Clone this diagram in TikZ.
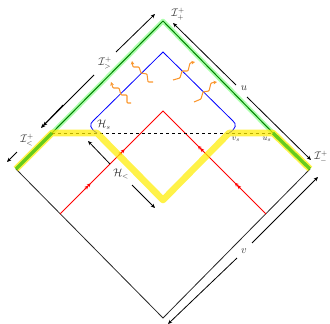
\documentclass[tikz,border=0pt]{standalone}
\usetikzlibrary{arrows.meta}
\definecolor{waveor}{RGB}{250,150,45}
\tikzset{
  outline/.style={black!85,line width=0.8pt},
  dim/.style={black,line width=0.8pt,-{Stealth[length=4.2pt,width=3.6pt]}},
  halo/.style={green!80!white,opacity=0.4,line width=4.6pt,line join=round},
  gline/.style={green!50!black,line width=1pt,line join=round},
  yband/.style={yellow!95!orange,opacity=0.72,line width=6.6pt,line join=round},
  gband/.style={green!70!black,opacity=0.6,line width=3.4pt},
  rline/.style={red,line width=0.8pt},
  bline/.style={blue,line width=0.8pt},
  rmark/.style={red,line width=0.8pt,-{Stealth[length=3.4pt,width=3.8pt]Stealth[length=3.4pt,width=3.8pt]}},
  wave/.style={waveor,line width=1.05pt,rounded corners=0.8pt,-{Stealth[length=3.6pt,width=3.6pt]}},
  lab/.style={inner sep=0pt,font=\fontsize{10.5}{12}\selectfont,text=black!80},
  slab/.style={lab,font=\fontsize{8.5}{10}\selectfont}
}
\begin{document}
\begin{tikzpicture}[x=1pt,y=-1pt]
\useasboundingbox (0,0) rectangle (330,324);
\coordinate (T) at (163,21);
\coordinate (L) at (16,169);
\coordinate (R) at (310,169);
\coordinate (B) at (163,318);
\coordinate (YL) at (52,133);
\coordinate (YR) at (273,133);
\coordinate (HL) at (97,133);
\coordinate (HR) at (229,133);
\coordinate (YB) at (163,200);
\coordinate (RT) at (163,111);
\coordinate (RL) at (60,214);
\coordinate (RR) at (266,214);
\coordinate (BT) at (163,52);
% outline
\draw[outline] (L) -- (B) -- (R);
% green horizon
\draw[halo] (YL) -- (T) -- (YR);
\draw[gline] (YL) -- (T) -- (YR);
% red
\draw[rline] (RL) -- (RT) -- (RR);
\draw[rmark] (85,189) -- (90.5,183.5);
\draw[rmark] (119,155) -- (124.5,149.5);
\draw[rmark] (203.5,151.5) -- (198,146);
\draw[rmark] (240.5,188.5) -- (235,183);
% dashed
\draw[black,line width=0.7pt,dashed] (YL) -- (YR);
% blue
\draw[bline] (HL) .. controls (90,129) and (89,124) .. (93,121) -- (BT) -- (233,121) .. controls (237,124) and (236,129) .. (HR);
% yellow
\draw[yband] (L) -- (YL) -- (HL) -- (YB) -- (HR) -- (YR) -- (R);
\draw[gband] (L) -- (YL);
\draw[gband] (YR) -- (R);
% waves
\draw[wave] (153,82) -- (148,82) -- (147,74) -- (141,73) -- (139,67) -- (133,67) -- (132,61);
\draw[wave] (131,103) -- (127,103) -- (127,95) -- (121,95) -- (119,88) -- (113,88) -- (111,82);
\draw[wave] (173,80) -- (180,78) -- (182,71) -- (188,71) -- (190,63) -- (195,62);
\draw[wave] (194,102) -- (201,99) -- (203,92) -- (209,91) -- (211,83) -- (217,82);
% labels
\node[lab] (lIpp) at (178,14) {$\mathcal{I}^+_+$};
\node[lab] (lIgt) at (105,63) {$\mathcal{I}^+_>$};
\node[lab] (lIlt) at (27,140) {$\mathcal{I}^+_<$};
\node[lab] (lImn) at (321,157) {$\mathcal{I}^+_-$};
\node[lab] (lu) at (244,88) {$u$};
\node[lab] (lv) at (244,251) {$v$};
\node[lab] (lHs) at (104,125) {$\mathcal{H}_s$};
\node[lab] (lHl) at (121,174) {$\mathcal{H}_<$};
\node[slab] (lvs) at (236,139) {$v_s$};
\node[slab] (lus) at (267,139) {$u_s$};
% dimension arrows
\draw[dim] (94,75) -- (43,126);
\draw[dim] (116,52) -- (155,14);
\draw[dim] (17,152) -- (7,162);
\draw[dim] (63,105) -- (41,128);
\draw[dim] (236,85) -- (173,23);
\draw[dim] (247,97) -- (311,160);
\draw[dim] (252,243) -- (318,177);
\draw[dim] (237,258) -- (168,324);
\draw[dim] (110,164) -- (88,141);
\draw[dim] (132,185) -- (155,208);
\end{tikzpicture}
\end{document}
